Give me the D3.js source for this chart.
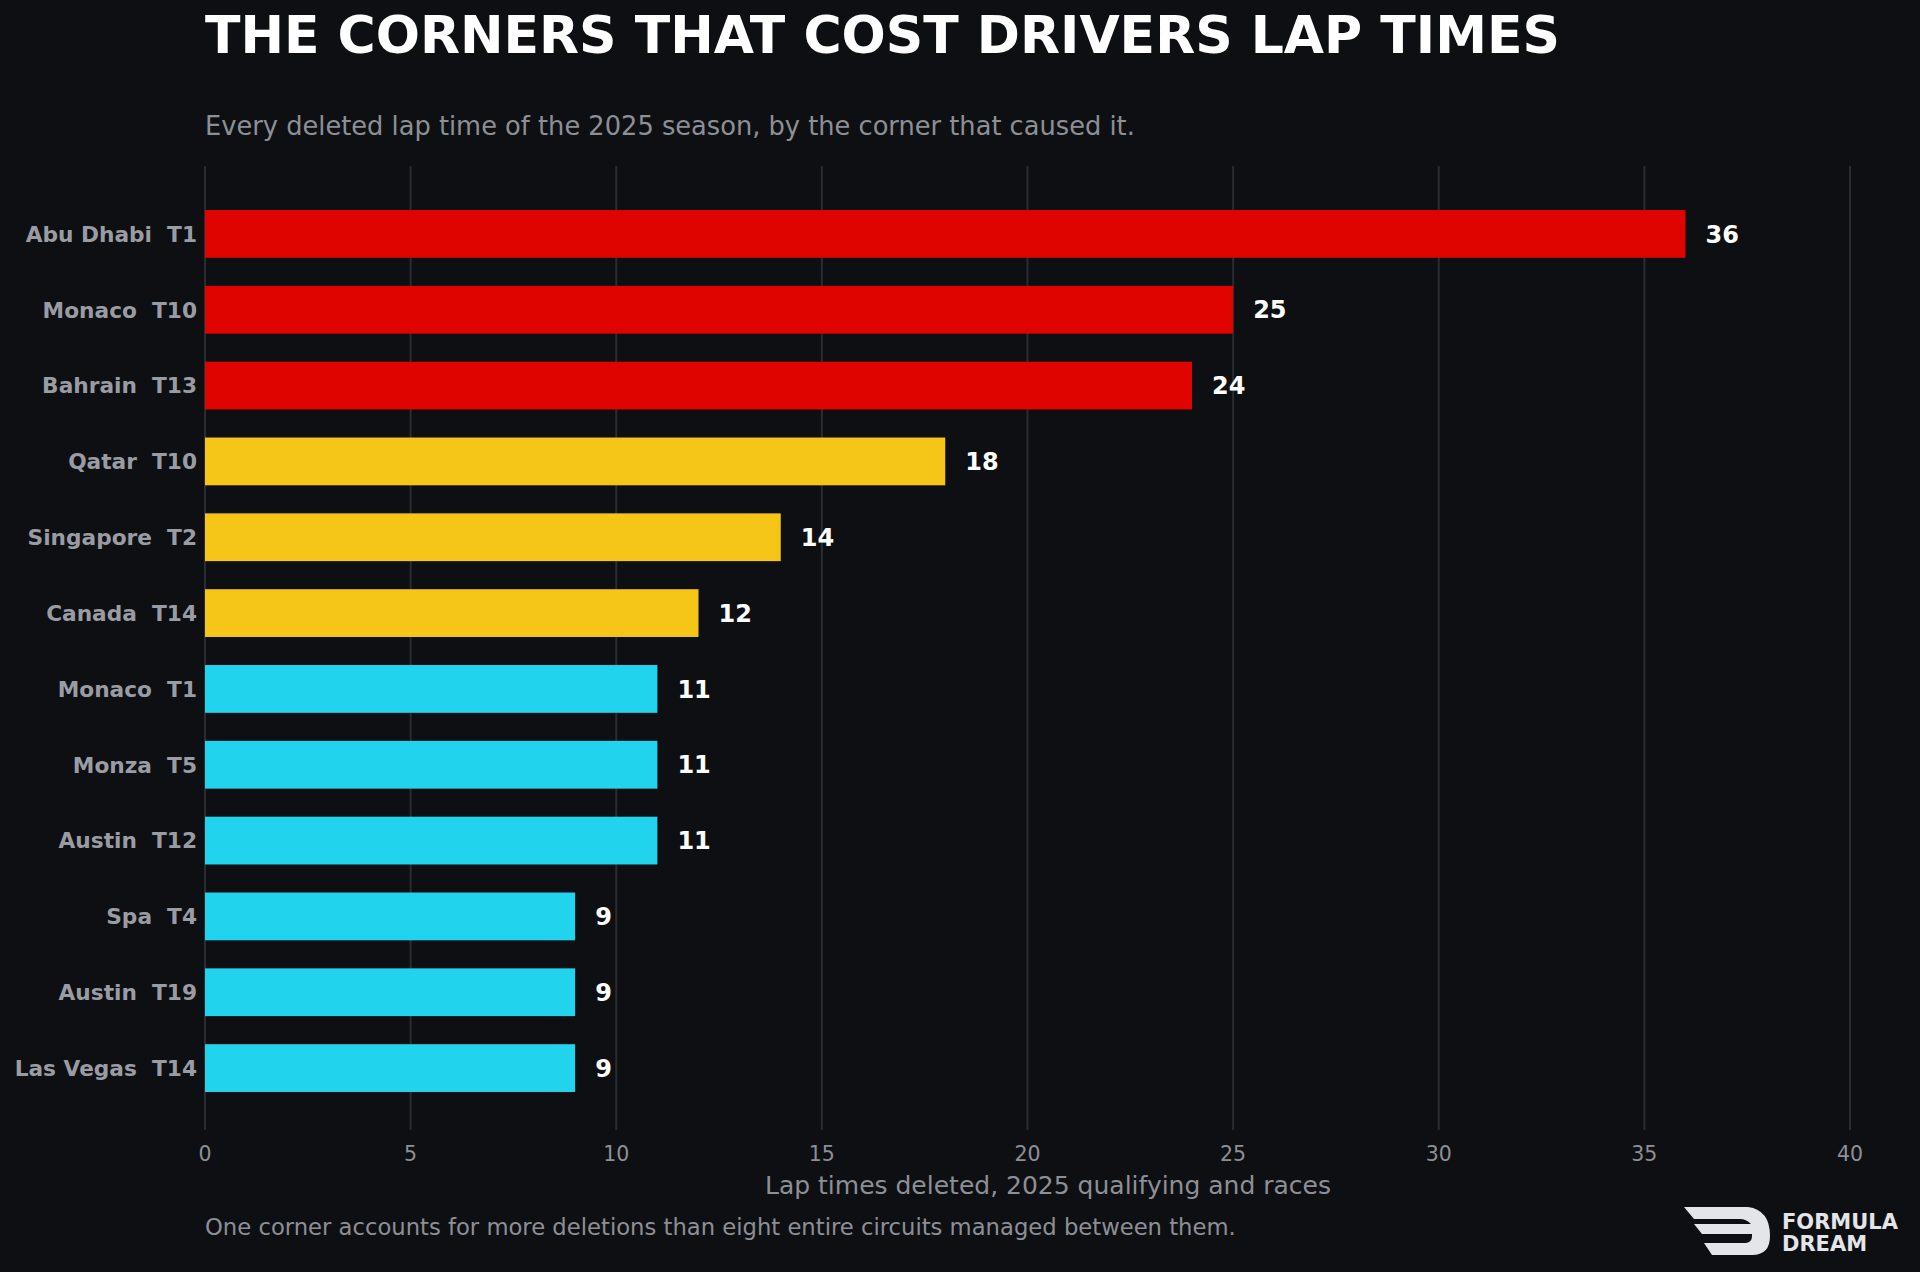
<!DOCTYPE html><html><head><meta charset="utf-8"><script src="https://d3js.org/d3.v7.min.js"></script>
<style>body{margin:0;background:#0e0f13;}</style></head><body><svg id="c" width="1920" height="1272"></svg>
<script>
const categories=["Abu Dhabi  T1","Monaco  T10","Bahrain  T13","Qatar  T10","Singapore  T2","Canada  T14","Monaco  T1","Monza  T5","Austin  T12","Spa  T4","Austin  T19","Las Vegas  T14"];
const values=[36,25,24,18,14,12,11,11,11,9,9,9];
const colors=["#e00400","#e00400","#e00400","#f5c518","#f5c518","#f5c518","#22d3ee","#22d3ee","#22d3ee","#22d3ee","#22d3ee","#22d3ee"];
const ticks=[0,5,10,15,20,25,30,35,40];
const svg=d3.select("#c");
const F="DejaVu Sans";
svg.append("rect").attr("width",1920).attr("height",1272).attr("fill","#0e0f13");
const x=d3.scaleLinear().domain([0,40]).range([205,1850]);
const y=d3.scaleBand().domain(categories).range([196,1106]).paddingInner(0.37).paddingOuter(0.185);
svg.append("g").selectAll("line").data(ticks).join("line").attr("x1",d=>x(d)).attr("x2",d=>x(d)).attr("y1",166).attr("y2",1130).attr("stroke","#2a2c31").attr("stroke-width",2);
svg.append("g").selectAll("rect").data(values).join("rect").attr("x",x(0)).attr("y",(d,i)=>y(categories[i])).attr("width",d=>x(d)-x(0)).attr("height",y.bandwidth()).attr("fill",(d,i)=>colors[i]);
svg.append("g").selectAll("text").data(values).join("text").attr("x",d=>x(d)+20).attr("y",(d,i)=>y(categories[i])+y.bandwidth()/2).attr("dy","0.36em").attr("fill","#fff").attr("font-family",F).attr("font-weight","bold").attr("font-size",24).text(d=>d);
svg.append("g").selectAll("text").data(categories).join("text").attr("x",197).attr("y",d=>y(d)+y.bandwidth()/2).attr("dy","0.36em").attr("text-anchor","end").attr("fill","#9a9ca3").attr("font-family",F).attr("font-weight","bold").attr("font-size",21.7).style("white-space","pre").text(d=>d);
svg.append("g").selectAll("text").data(ticks).join("text").attr("x",d=>x(d)).attr("y",1161).attr("text-anchor","middle").attr("fill","#8d8f96").attr("font-family",F).attr("font-size",20.5).text(d=>d);
svg.append("text").attr("x",1048).attr("y",1194).attr("text-anchor","middle").attr("fill","#8d8f96").attr("font-family",F).attr("font-size",25).text("Lap times deleted, 2025 qualifying and races");
svg.append("text").attr("x",205).attr("y",53).attr("fill","#fff").attr("font-family",F).attr("font-weight","bold").attr("font-size",52).text("THE CORNERS THAT COST DRIVERS LAP TIMES");
svg.append("text").attr("x",205).attr("y",135).attr("fill","#8d8f96").attr("font-family",F).attr("font-size",25.7).text("Every deleted lap time of the 2025 season, by the corner that caused it.");
svg.append("text").attr("x",205).attr("y",1235).attr("fill","#8d8f96").attr("font-family",F).attr("font-size",22.7).text("One corner accounts for more deletions than eight entire circuits managed between them.");
const lg=svg.append("g").attr("fill","#e4e5e8");
lg.append("path").attr("d","M1684,1207 L1748,1207 Q1770,1210 1770,1236 Q1770,1255 1752,1255 L1712,1255 L1704,1243 L1746,1243 Q1752,1242 1752,1236 L1752,1234 L1702,1234 L1694,1224 L1751,1224 Q1746,1219 1740,1219 L1694,1219 Z");
lg.append("text").attr("x",1782).attr("y",1229).attr("font-family",F).attr("font-weight","bold").attr("font-size",21).text("FORMULA");
lg.append("text").attr("x",1782).attr("y",1251).attr("font-family",F).attr("font-weight","bold").attr("font-size",21).text("DREAM");
</script></body></html>
